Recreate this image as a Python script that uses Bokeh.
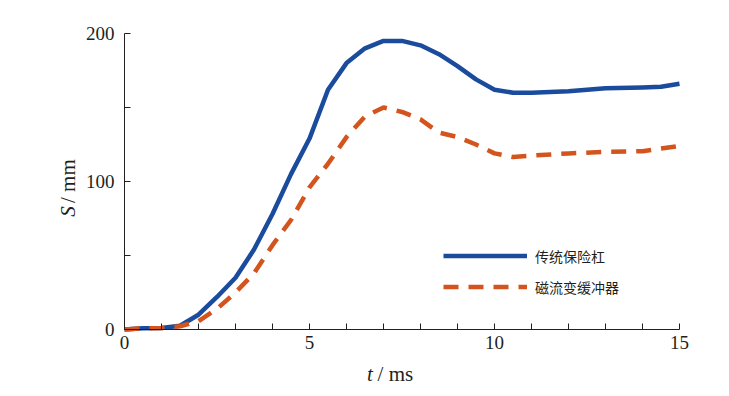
import math
from bokeh.plotting import figure
from bokeh.models import (FixedTicker, Legend, LegendItem, Label, Range1d)
from bokeh.embed import file_html
from bokeh.resources import INLINE

# Data (t in ms, S in mm)
t_blue = [0, 0.5, 1, 1.5, 2, 2.5, 3, 3.5, 4, 4.5, 5, 5.5, 6, 6.5, 7, 7.5, 8, 8.5,
          9, 9.5, 10, 10.5, 11, 12, 13, 14, 14.5, 15]
s_blue = [0, 0.8, 1, 2.5, 10, 22, 35, 54, 78, 105, 129, 162, 180, 190, 195, 195, 192, 186,
          178, 169, 162, 160, 160, 161, 163, 163.5, 164, 166]

t_orange = [0, 0.5, 1, 1.5, 2, 2.5, 3, 3.5, 4, 4.5, 5, 5.5, 6, 6.5, 7, 7.5, 8, 8.5,
            9, 9.5, 10, 10.5, 11, 12, 13, 14, 15]
s_orange = [0, 0.8, 1, 2.2, 5.6, 14, 25, 38, 57, 74, 96, 112, 130, 144, 150, 147, 142, 133,
            130, 125, 119, 116.5, 117.5, 119, 120, 120.5, 124]

x_major = [0, 5, 10, 15]
x_minor = [1, 2, 3, 4, 6, 7, 8, 9, 11, 12, 13, 14]
y_major = [0, 100, 200]
y_minor = [50, 150]

name_blue = "传统保险杠"
name_orange = "磁流变缓冲器"
x_title_var, x_title_unit = "t", "/ ms"
y_title_var, y_title_unit = "S", "/ mm"

SERIF = "Liberation Serif"
CJK = "Noto Sans CJK SC"
TXT = "#231f20"

# canvas geometry: frame covers the whole canvas, axes pinned at t=0 / S=0
W, H = 721, 388
px_t = 37.0      # px per ms
px_s = 1.48      # px per mm
left, top = 124, 33
x0 = -left / px_t
y1 = 200 + top / px_s
p = figure(width=W, height=H, output_backend="svg", toolbar_location=None,
           x_range=Range1d(x0, x0 + W / px_t), y_range=Range1d(y1 - H / px_s, y1),
           min_border=0)
p.outline_line_color = None
p.xgrid.visible = False
p.ygrid.visible = False
p.background_fill_color = "white"
p.border_fill_color = "white"

for ax, major, minor, bnds in ((p.xaxis[0], x_major, x_minor, (0, 15)),
                               (p.yaxis[0], y_major, y_minor, (0, 200))):
    ax.ticker = FixedTicker(ticks=major, minor_ticks=minor)
    ax.fixed_location = 0
    ax.bounds = bnds
    ax.major_tick_in = 6
    ax.major_tick_out = 0
    ax.minor_tick_in = 6
    ax.minor_tick_out = 0
    ax.axis_line_color = TXT
    ax.major_tick_line_color = TXT
    ax.minor_tick_line_color = TXT
    ax.major_label_text_font = SERIF
    ax.major_label_text_font_size = "19px"
    ax.major_label_text_color = TXT
p.xaxis.major_label_standoff = 6
p.yaxis.major_label_standoff = 10

r1 = p.line(t_blue, s_blue, line_color="#1a4b9c", line_width=4.5, line_join="round")
r2 = p.line(t_orange, s_orange, line_color="#d4541e", line_width=4.5, line_dash="15 10")

legend = Legend(items=[LegendItem(label=name_blue, renderers=[r1]),
                       LegendItem(label=name_orange, renderers=[r2])],
                location=(443, 86), border_line_color=None, background_fill_alpha=0,
                padding=0, margin=0, spacing=0, glyph_width=84, glyph_height=31,
                label_height=31, label_standoff=8,
                label_text_font=CJK, label_text_font_size="14px", label_text_color=TXT)
p.add_layout(legend)

def lab(x, y, text, italic, align, angle=0.0):
    return Label(x=x, y=y, text=text,
                 text_font=SERIF, text_font_style="italic" if italic else "normal",
                 text_font_size="21px", text_color=TXT, text_align=align,
                 text_baseline="middle", angle=angle)

p.add_layout(lab(6.71, -30.1, x_title_var, True, "right"))
p.add_layout(lab(6.84, -30.1, x_title_unit, False, "left"))
p.add_layout(lab(-1.52, 79.7, y_title_var, True, "center", math.pi / 2))
p.add_layout(lab(-1.52, 85.5, y_title_unit, False, "left", math.pi / 2))

open("out.html", "w").write(file_html(p, INLINE))
